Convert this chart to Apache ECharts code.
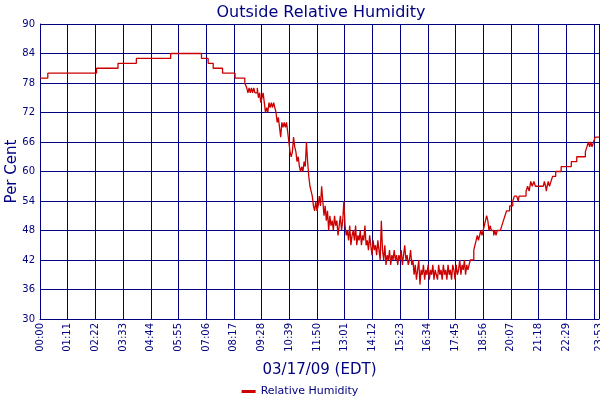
<!DOCTYPE html>
<html>
<head>
<meta charset="utf-8">
<script src="https://cdn.jsdelivr.net/npm/echarts@6/dist/echarts.min.js"></script>
<style>html,body{margin:0;padding:0;background:#fff;}#c{width:600px;height:400px;}</style>
</head>
<body>
<div id="c"></div>
<script>
// minutes after midnight, 03/17/09
var minutes = [0,20,145,200,247,335,414,431,444,468,500,525,530,
533,536,539,542,545,548,551,554,557,560,563,566,569,572,575,578,581,584,587,590,593,596,599,602,605,608,611,614,617,620,623,626,629,632,635,638,641,644,647,650,653,656,659,662,665,668,671,674,677,680,683,686,689,692,695,698,701,704,707,710,713,716,719,722,725,728,731,734,737,740,743,746,749,752,755,758,761,764,767,770,773,776,779,782,785,788,791,794,797,800,803,806,809,812,815,818,821,824,827,830,833,836,839,842,845,848,851,854,857,860,863,866,869,872,875,878,881,884,887,890,893,896,899,902,905,908,911,914,917,920,923,926,929,932,935,938,941,944,947,950,953,956,959,962,965,968,971,974,977,980,983,986,989,992,995,998,1001,1004,1007,1010,1013,1016,1019,1022,1025,1028,1031,1034,1037,1040,1043,1046,1049,1052,1055,1058,1061,1064,1067,1070,1073,1076,1079,1082,1085,1088,1091,1094,1097,1100,1103,1108,1112,1115,1118,1121,1124,1127,1130,1133,1136,1139,1142,1145,1148,1151,1154,1157,1160,1163,1166,1169,1172,1175,1180,1184,1188,1192,1196,1200,1204,1208,1212,1216,1222,1226,1228,1240,1246,1250,1254,1258,1262,1266,1270,1276,1290,1293,1296,1298,1300,1303,1306,1310,1314,1318,1322,1336,1362,1376,1398,1402,1406,1409,1412,1415,1419,1423,1433];
var humidity = [79,80,81,82,83,84,83,82,81,80,79,78,77,
76,77,76,77,76,77,76,76,77,75,76,74,75,76,74,72,73,72,74,73,74,73,74,73,72,70,71,69,67,70,69,70,69,70,68,66,64,63,64,67,65,64,62,63,61,60,61,60,62,61,66,62,59,57,56,55,53,52,54,52,53,55,53,57,54,51,53,50,52,48,51,49,50,48,51,49,50,47,49,51,48,50,54,49,47,48,46,49,45,47,48,46,49,45,47,46,48,45,47,46,49,45,46,44,47,45,43,46,44,45,43,46,44,42,50,44,42,45,41,43,42,44,41,43,42,44,42,43,41,43,42,44,41,43,45,42,43,41,42,44,41,42,39,41,38,40,42,37,40,39,41,38,40,39,41,38,40,39,41,38,40,39,38,41,39,40,38,41,39,40,38,41,39,40,38,41,40,38,41,39,40,42,39,41,40,42,39,41,40,41,42,42,44,45,46,47,46,47,48,47,48,49,50,51,50,48,49,48,48,47,48,47,48,48,48,49,50,51,52,52,53,53,54,55,55,54,55,55,56,57,56,58,57,58,57,57,57,58,57,56,57,58,57,58,59,59,60,61,62,63,64,65,66,65,66,65,66,67,67];
var xTickLabels = ['00:00','01:11','02:22','03:33','04:44','05:55','07:06','08:17','09:28','10:39','11:50','13:01','14:12','15:23','16:34','17:45','18:56','20:07','21:18','22:29','23:40','23:53'];
var yTicks = [30,36,42,48,54,60,66,72,78,84,90];
var title = 'Outside Relative Humidity';
var seriesName = 'Relative Humidity';
var xName = '03/17/09 (EDT)';
var yName = 'Per Cent';

var navy = '#000080';
var data = minutes.map(function(m, i){ return [m, humidity[i]]; });
function toMin(s){ var p = s.split(':'); return (+p[0])*60 + (+p[1]); }
function hhmm(v){
  var h = Math.floor(v/60), m = Math.round(v%60);
  return (h<10?'0':'')+h+':'+(m<10?'0':'')+m;
}
var xMax = toMin(xTickLabels[xTickLabels.length-1]);
var chart = echarts.init(document.getElementById('c'));
chart.setOption({
  animation: false,
  backgroundColor: '#fff',
  title: {text: title, left: 316, textAlign: 'center', top: 0,
    textStyle: {color: navy, fontSize: 16, fontWeight: 'normal', fontFamily: 'DejaVu Sans'}},
  legend: {top: 381, left: 'center', itemWidth: 14, itemHeight: 3, icon: 'rect', itemGap: 4,
    textStyle: {color: navy, fontSize: 11, fontFamily: 'DejaVu Sans'},
    data: [{name: seriesName, icon: 'rect'}]},
  grid: {left: 40, right: 1, top: 24, bottom: 81, show: false, containLabel: false, outerBoundsMode: 'none'},
  xAxis: {type: 'value', min: 0, max: xMax, interval: 71,
    name: xName, nameLocation: 'middle', nameGap: 44, nameMoveOverlap: false,
    nameTextStyle: {color: navy, fontSize: 15, fontFamily: 'DejaVu Sans'},
    axisLine: {show: true, lineStyle: {color: navy, width: 1}},
    axisTick: {show: false},
    axisLabel: {show: true, rotate: 90, color: navy, fontSize: 10, fontFamily: 'DejaVu Sans', margin: 4, formatter: hhmm, showMaxLabel: true},
    splitLine: {show: true, lineStyle: {color: navy, width: 1}}},
  yAxis: {type: 'value', min: yTicks[0], max: yTicks[yTicks.length-1], interval: 6,
    name: yName, nameLocation: 'middle', nameGap: 20, nameMoveOverlap: false,
    nameTextStyle: {color: navy, fontSize: 15, fontFamily: 'DejaVu Sans'},
    axisLine: {show: true, lineStyle: {color: navy, width: 1}},
    axisTick: {show: false},
    axisLabel: {color: navy, fontSize: 10, fontFamily: 'DejaVu Sans', margin: 5},
    splitLine: {show: true, lineStyle: {color: navy, width: 1}}},
  series: [{name: seriesName, type: 'line', step: 'end', data: data, showSymbol: false,
    symbol: 'none', color: '#CC0000', lineStyle: {color: '#CC0000', width: 1.3}}]
});
</script>
</body>
</html>
